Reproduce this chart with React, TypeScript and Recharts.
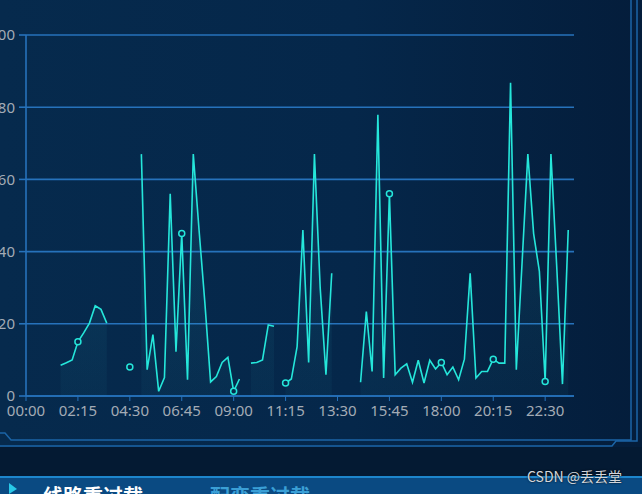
import { Area, AreaChart, CartesianGrid, XAxis, YAxis } from "recharts";

// 15-minute slots, 00:00 .. 23:45
const slots: string[] = Array.from({ length: 96 }, (_, i) => {
  const h = String(Math.floor(i / 4)).padStart(2, "0");
  const m = String((i % 4) * 15).padStart(2, "0");
  return `${h}:${m}`;
});

// load rate (%), null = no data
const loadRate: (number | null)[] = [
  null, null, null, null, null, null, 8.5, 9.2, 10, 15,
  17.5, 20.2, 25, 24, 20.2, null, null, null, 8, null,
  67, 7.3, 17, 1.3, 5.1, 56, 12.3, 45, 4.5, 67,
  46, 26, 3.9, 5.4, 9.3, 10.7, 1.3, 4.7, null, 9.1,
  9.3, 10, 19.7, 19.3, null, 3.6, 4.7, 13.7, 46, 9.3,
  67, 30, 5.9, 34, null, null, null, null, 3.8, 23.4,
  6.8, 77.9, 5, 56, 5.9, 7.7, 8.9, 3.8, 9.9, 3.6,
  9.9, 7.5, 9.3, 5.9, 8, 4.5, 10.2, 34, 5, 6.8,
  6.8, 10.2, 9.1, 9.1, 86.8, 7.3, 37, 67, 45, 34.5,
  4, 67, 36, 3.3, 46, null,
];

const yTicks = [0, 20, 40, 60, 80, 100];

const data = slots.map((t, i) => ({ time: t, v: loadRate[i] }));

const LINE = "#25e6da";
const AXIS = "#2672bb";
const LABEL = "#a3abb5";

// symbol only on the label slots (every 9th point), like the original
function SymbolDot(props: any) {
  const { cx, cy, index, payload } = props;
  if (payload == null || payload.v == null || index % 9 !== 0 || cx == null || cy == null) {
    return <g key={`d-${index}`} />;
  }
  return (
    <circle
      key={`d-${index}`}
      cx={cx}
      cy={cy}
      r={3}
      fill="#072a4c"
      stroke={LINE}
      strokeWidth={1.5}
    />
  );
}

export default function App() {
  return (
    <div
      style={{
        position: "absolute",
        left: 0,
        top: 0,
        width: 642,
        height: 494,
        overflow: "hidden",
        background: "linear-gradient(90deg, #062a4d 0%, #05274a 55%, #041d3b 100%)",
      }}
    >
      <div style={{ position: "absolute", left: -29, top: 0 }}>
        <AreaChart
          width={620}
          height={440}
          data={data}
          margin={{ top: 35, right: 17, left: 0, bottom: 0 }}
        >
          <defs>
            <linearGradient id="loadFill" x1="0" y1="0" x2="0" y2="1">
              <stop offset="0%" stopColor="#3fd6e0" stopOpacity={0.2} />
              <stop offset="100%" stopColor="#3fd6e0" stopOpacity={0.06} />
            </linearGradient>
          </defs>
          <CartesianGrid vertical={false} stroke={AXIS} strokeWidth={1.6} />
          <XAxis
            dataKey="time"
            scale="point"
            interval={8}
            height={44}
            axisLine={{ stroke: AXIS, strokeWidth: 1.6 }}
            tickLine={{ stroke: AXIS }}
            tickSize={5}
            tickMargin={4}
            tick={{ fill: LABEL, fontSize: 15, fontFamily: "Noto Sans" }}
          />
          <YAxis
            width={55}
            domain={[0, 100]}
            ticks={yTicks}
            axisLine={{ stroke: AXIS, strokeWidth: 1.6 }}
            tickLine={{ stroke: AXIS, strokeWidth: 1.6 }}
            tickSize={7}
            tickMargin={4}
            tick={{ fill: LABEL, fontSize: 15, fontFamily: "Noto Sans" }}
          />
          <Area
            type="linear"
            dataKey="v"
            stroke={LINE}
            strokeWidth={1.6}
            fill="url(#loadFill)"
            connectNulls={false}
            dot={SymbolDot}
            activeDot={false}
            isAnimationActive={false}
          />
        </AreaChart>
      </div>

      {/* panel frame */}
      <svg
        width={642}
        height={494}
        style={{ position: "absolute", left: 0, top: 0, pointerEvents: "none" }}
      >
        <polyline
          points="0,433 5,433 11,440 631,440 631,0"
          fill="none"
          stroke="#1b64a6"
          strokeWidth={1.5}
        />
        <polyline
          points="0,446 612,446 616,441 637,441 637,0"
          fill="none"
          stroke="#1b64a6"
          strokeWidth={1.5}
        />
        <rect x={0} y={447} width={642} height={30} fill="#041a33" />
        <rect x={0} y={477} width={642} height={17} fill="#0a4a82" />
        <line x1={0} y1={477} x2={642} y2={477} stroke="#1d86cc" strokeWidth={2} />
        <polygon points="9,483 17,489 9,494" fill="#28c8e8" />
      </svg>

      <div
        style={{
          position: "absolute",
          left: 43,
          top: 484,
          fontFamily: "Noto Sans CJK SC",
          fontSize: 20,
          fontWeight: 700,
          color: "#ffffff",
          lineHeight: "24px",
          whiteSpace: "nowrap",
        }}
      >
        线路重过载
      </div>
      <div
        style={{
          position: "absolute",
          left: 210,
          top: 484,
          fontFamily: "Noto Sans CJK SC",
          fontSize: 20,
          fontWeight: 700,
          color: "#3a9fd6",
          lineHeight: "24px",
          whiteSpace: "nowrap",
        }}
      >
        配变重过载
      </div>
      <div
        style={{
          position: "absolute",
          left: 527,
          top: 466,
          fontFamily: "Noto Sans CJK SC",
          fontSize: 14,
          color: "#d2d6dc",
          lineHeight: "20px",
          whiteSpace: "nowrap",
          textShadow: "0 0 2px #000",
        }}
      >
        CSDN @丢丢堂
      </div>
    </div>
  );
}
